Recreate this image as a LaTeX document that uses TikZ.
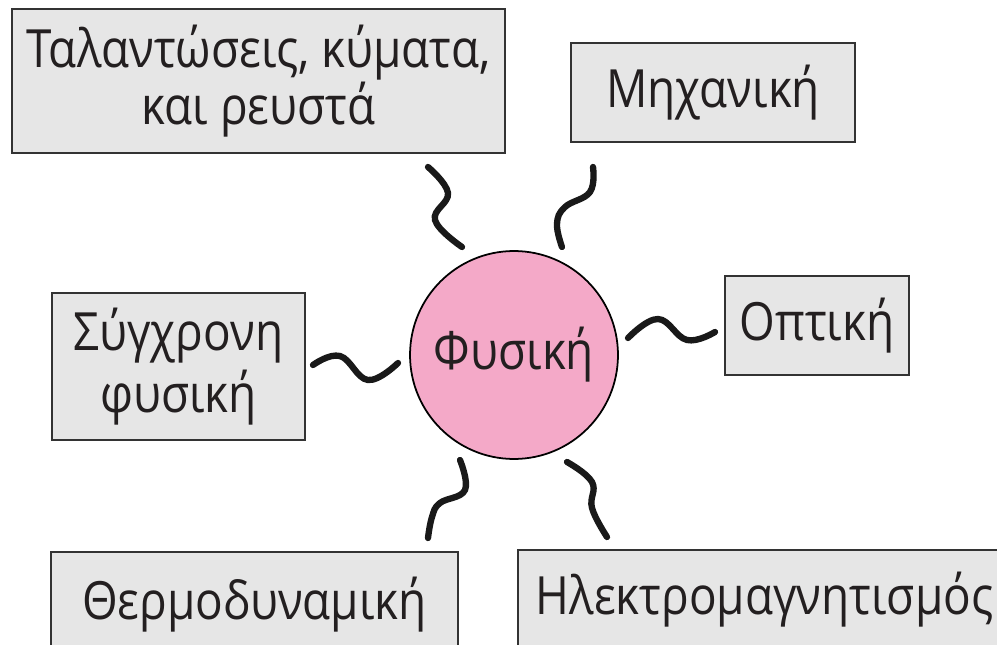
\documentclass[tikz,border=0pt]{standalone}
\usepackage{fontspec}
\setmainfont[FakeStretch=0.87]{Open Sans}
\definecolor{boxfill}{HTML}{E6E6E6}
\definecolor{boxline}{HTML}{333333}
\definecolor{pinkfill}{HTML}{F4A9C8}
\definecolor{txt}{HTML}{231F20}
\begin{document}
\begin{tikzpicture}[x=0.02cm,y=-0.02cm,
  topic/.style={draw=boxline, line width=1.5pt, fill=boxfill, text=txt, align=center, inner sep=0pt, font=\fontsize{30}{30}\selectfont},
  center/.style={circle, draw=black, line width=1pt, fill=pinkfill, text=txt, inner sep=0pt, minimum size=4.16cm, font=\fontsize{30}{30}\selectfont},
  squig/.style={line width=3.6pt, line cap=round, draw=black!90}]
\useasboundingbox (0,0) rectangle (997,645);
\clip (0,0) rectangle (997,645);
\node[topic, minimum width=9.86cm, minimum height=2.88cm, font=\fontsize{30}{30}\selectfont] (osc) at (258.5,81) {Ταλαντώσεις, κύματα,\\και ρευστά};
\node[topic, minimum width=5.68cm, minimum height=1.98cm] (mech) at (713,92.5) {Μηχανική};
\node[topic, minimum width=5.06cm, minimum height=2.94cm, font=\fontsize{30}{35}\selectfont] (mod) at (178.5,366.5) {Σύγχρονη\\φυσική};
\node[topic, minimum width=3.68cm, minimum height=1.98cm] (opt) at (817,325.5) {Οπτική};
\node[topic, minimum width=8.14cm, minimum height=2.12cm] (thermo) at (254.5,605) {Θερμοδυναμική};
\node[topic, minimum width=9.86cm, minimum height=2.0cm] (em) at (764.5,600) {Ηλεκτρομαγνητισμός};
\node[center] (phys) at (514,355) {Φυσική};
% squiggle end points
\coordinate (s1a) at (428,167); \coordinate (s1b) at (462,247);
\coordinate (s2a) at (593,167); \coordinate (s2b) at (562,247);
\coordinate (s3a) at (313,365); \coordinate (s3b) at (398,363);
\coordinate (s4a) at (628,338); \coordinate (s4b) at (715,332);
\coordinate (s5a) at (460,460); \coordinate (s5b) at (428,538);
\coordinate (s6a) at (567,462); \coordinate (s6b) at (607,537);
\draw[squig] plot[smooth, tension=0.7] coordinates {(s1a) (448,193) (435,220) (s1b)};
\draw[squig] plot[smooth, tension=0.7] coordinates {(s2a) (590,192) (565,207) (557,224) (s2b)};
\draw[squig] plot[smooth, tension=0.7] coordinates {(s3a) (340,356) (368,380) (s3b)};
\draw[squig] plot[smooth, tension=0.7] coordinates {(s4a) (658,319) (687,340) (s4b)};
\draw[squig] plot[smooth, tension=0.7] coordinates {(s5a) (465,490) (440,503) (432,517) (s5b)};
\draw[squig] plot[smooth, tension=0.7] coordinates {(s6a) (592,482) (592,508) (s6b)};
\end{tikzpicture}
\end{document}
